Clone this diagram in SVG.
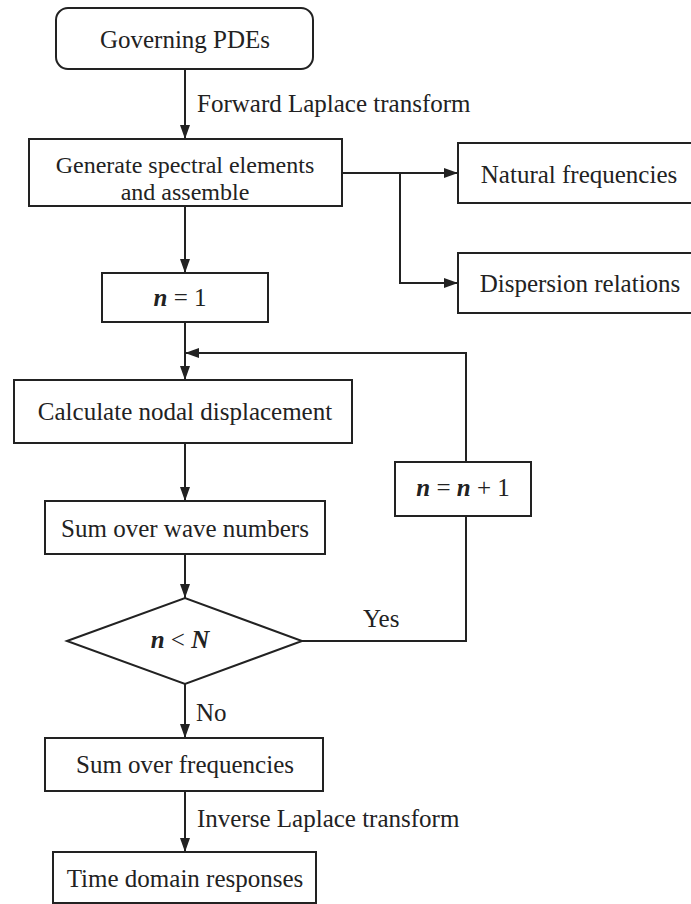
<svg xmlns="http://www.w3.org/2000/svg" width="691" height="904" viewBox="0 0 691 904">
<style>
.box{fill:#fff;stroke:#222;stroke-width:2}
.ln{fill:none;stroke:#222;stroke-width:2}
text{font-family:"Liberation Serif","Times New Roman",serif;font-size:25px;fill:#222}
.c{text-anchor:middle}
.m{font-weight:bold;font-style:italic}
.s{font-size:24px}
</style>
<defs>
<marker id="ah" viewBox="0 0 14 10" refX="14" refY="5" markerWidth="14" markerHeight="10" markerUnits="userSpaceOnUse" orient="auto">
<path d="M0,0 L14,5 L0,10 Z" fill="#222"/>
</marker>
</defs>
<g id="connectors">
<line class="ln" x1="185" y1="69" x2="185" y2="139" marker-end="url(#ah)"/>
<line class="ln" x1="342" y1="173" x2="458" y2="173" marker-end="url(#ah)"/>
<polyline class="ln" points="400,173 400,283 458,283" marker-end="url(#ah)"/>
<line class="ln" x1="185" y1="206" x2="185" y2="273" marker-end="url(#ah)"/>
<line class="ln" x1="185" y1="322" x2="185" y2="380" marker-end="url(#ah)"/>
<polyline class="ln" points="466,462 466,353 185,353" marker-end="url(#ah)"/>
<line class="ln" x1="185" y1="443" x2="185" y2="501" marker-end="url(#ah)"/>
<line class="ln" x1="185" y1="554" x2="185" y2="598" marker-end="url(#ah)"/>
<polyline class="ln" points="302,641 466,641 466,516"/>
<line class="ln" x1="185" y1="684" x2="185" y2="738" marker-end="url(#ah)"/>
<line class="ln" x1="185" y1="791" x2="185" y2="852" marker-end="url(#ah)"/>
<text x="197" y="112">Forward Laplace transform</text>
<text x="363" y="627">Yes</text>
<text x="196" y="721">No</text>
<text x="197" y="827">Inverse Laplace transform</text>
</g>
<g id="governing">
<rect class="box" x="56" y="8" width="257" height="61" rx="12"/>
<text class="c" x="185" y="48">Governing PDEs</text>
</g>
<g id="generate">
<rect class="box" x="29" y="139" width="313" height="67"/>
<text class="c s" x="185" y="173">Generate spectral elements</text>
<text class="c s" x="185" y="200">and assemble</text>
</g>
<g id="natural">
<rect class="box" x="458" y="143" width="240" height="60"/>
<text class="c" x="579" y="183">Natural frequencies</text>
</g>
<g id="dispersion">
<rect class="box" x="458" y="253" width="240" height="60"/>
<text class="c" x="580" y="292">Dispersion relations</text>
</g>
<g id="n1">
<rect class="box" x="102" y="273" width="166" height="49"/>
<text class="c" x="180" y="306"><tspan class="m">n</tspan> = 1</text>
</g>
<g id="calculate">
<rect class="box" x="14" y="380" width="338" height="63"/>
<text class="c" x="185" y="420">Calculate nodal displacement</text>
</g>
<g id="increment">
<rect class="box" x="395" y="462" width="136" height="54"/>
<text class="c" x="463" y="496"><tspan class="m">n</tspan> = <tspan class="m">n</tspan> + 1</text>
</g>
<g id="sumwave">
<rect class="box" x="45" y="501" width="280" height="53"/>
<text class="c" x="185" y="537">Sum over wave numbers</text>
</g>
<g id="decision">
<polygon class="box" points="67,641 185,598 302,641 185,684"/>
<text class="c" x="180" y="648"><tspan class="m">n</tspan> &lt; <tspan class="m">N</tspan></text>
</g>
<g id="sumfreq">
<rect class="box" x="45" y="738" width="278" height="53"/>
<text class="c" x="185" y="773">Sum over frequencies</text>
</g>
<g id="time">
<rect class="box" x="53" y="852" width="263" height="51"/>
<text class="c" x="185" y="887">Time domain responses</text>
</g>
</svg>
